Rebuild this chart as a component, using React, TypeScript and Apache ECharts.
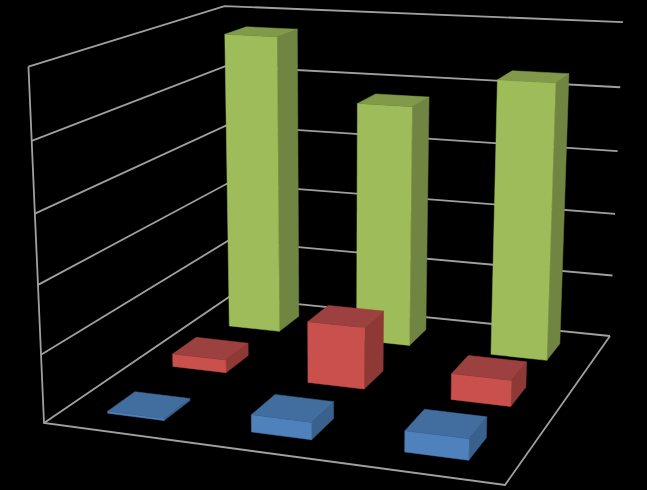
import React, { useEffect, useRef } from "react";
import * as echarts from "echarts";

const categories = ["Category 1", "Category 2", "Category 3"];
const depthSeries = ["Series 1", "Series 2", "Series 3"];
const series1 = [0.03, 0.25, 0.3];
const series2 = [0.2, 0.94, 0.39];
const series3 = [4.77, 3.8, 4.28];
const valueTicks = [0, 1, 2, 3, 4, 5];
const AXIS_MAX = 5;

const W = 647;
const H = 490;
// Picture positions of the box corners: the calibration of the 3D projection.
const A = [44, 423], B = [505, 485], C = [610, 336], D = [229, 297];
const E = [29, 67], F = [224, 4], G = [623, 24];

const BAR = 0.4; // bar share of a slot (gap 150%)

const FACES: Record<number, { front: string; side: string; top: string }> = {
  0: { front: "#4F81BD", side: "#3A608C", top: "#426D9F" },
  1: { front: "#C9504D", side: "#8E3936", top: "#9C413F" },
  2: { front: "#9FBC5A", side: "#708541", top: "#809A4A" },
};
const LINE = "#A0A0A0";

function solve3(m: number[][], r: number[]) {
  const a = m.map((row, i) => [...row, r[i]]);
  for (let i = 0; i < 3; i++) {
    let p = i;
    for (let k = i + 1; k < 3; k++) if (Math.abs(a[k][i]) > Math.abs(a[p][i])) p = k;
    [a[i], a[p]] = [a[p], a[i]];
    for (let k = 0; k < 3; k++) {
      if (k === i) continue;
      const f = a[k][i] / a[i][i];
      for (let j = i; j < 4; j++) a[k][j] -= f * a[i][j];
    }
  }
  return [a[0][3] / a[0][0], a[1][3] / a[1][1], a[2][3] / a[2][2]];
}

function makeProjection() {
  // floor homography: unit square to A, B, C, D
  const dx1 = B[0] - C[0], dx2 = D[0] - C[0], sx = A[0] - B[0] + C[0] - D[0];
  const dy1 = B[1] - C[1], dy2 = D[1] - C[1], sy = A[1] - B[1] + C[1] - D[1];
  const det = dx1 * dy2 - dx2 * dy1;
  const g = (sx * dy2 - dx2 * sy) / det;
  const h = (dx1 * sy - sx * dy1) / det;
  const a = B[0] - A[0] + g * B[0], b = D[0] - A[0] + h * D[0], c0 = A[0];
  const d = B[1] - A[1] + g * B[1], e = D[1] - A[1] + h * D[1], f0 = A[1];
  // height column from the three known top corners, least squares
  const tops: [number, number, number[]][] = [[0, 0, E], [0, 1, F], [1, 1, G]];
  const rows: number[][] = [];
  const rhs: number[] = [];
  tops.forEach(([x, y, p]) => {
    const w = g * x + h * y + 1;
    rows.push([1, 0, -p[0]]);
    rhs.push(p[0] * w - (a * x + b * y + c0));
    rows.push([0, 1, -p[1]]);
    rhs.push(p[1] * w - (d * x + e * y + f0));
  });
  const ata = [0, 1, 2].map((i) => [0, 1, 2].map((j) => rows.reduce((s, r) => s + r[i] * r[j], 0)));
  const atb = [0, 1, 2].map((i) => rows.reduce((s, r, k) => s + r[i] * rhs[k], 0));
  const [zx, zy, zw] = solve3(ata, atb);
  return (x: number, y: number, z: number) => {
    const w = g * x + h * y + zw * z + 1;
    return [(a * x + b * y + zx * z + c0) / w, (d * x + e * y + zy * z + f0) / w];
  };
}
const project = makeProjection();

const barData = [series3, series2, series1].flatMap((vals, r) =>
  vals.map((v, i) => [i, 2 - r, v])
);

export default function App() {
  const ref = useRef<HTMLDivElement>(null);
  useEffect(() => {
    document.body.style.margin = "0";
    document.body.style.background = "#000";
    const chart = echarts.init(ref.current!, undefined, { renderer: "svg" });
    const nCat = categories.length;
    const nDepth = depthSeries.length;
    const line = (api: any, pts: number[][]) => ({
      type: "polyline",
      shape: { points: pts.map((p) => api.coord(p)) },
      style: { stroke: LINE, lineWidth: 1.8, fill: "none" },
    });
    chart.setOption({
      animation: false,
      backgroundColor: "#000000",
      grid: { left: 0, right: 0, top: 0, bottom: 0 },
      xAxis: { type: "value", min: 0, max: W, show: false },
      yAxis: { type: "value", min: 0, max: H, inverse: true, show: false },
      series: [
        {
          type: "custom",
          coordinateSystem: "cartesian2d",
          silent: true,
          clip: false,
          data: valueTicks.map((t) => [t]),
          encode: { x: 0 },
          renderItem: (_p: any, api: any) => {
            const z = api.value(0) / AXIS_MAX;
            return line(api, [project(0, 0, z), project(0, 1, z), project(1, 1, z)]);
          },
        },
        {
          type: "custom",
          coordinateSystem: "cartesian2d",
          silent: true,
          clip: false,
          data: [[0]],
          encode: { x: 0 },
          renderItem: (_p: any, api: any) =>
            line(api, [project(0, 0, 1), project(0, 0, 0), project(1, 0, 0), project(1, 1, 0)]),
        },
        {
          type: "custom",
          coordinateSystem: "cartesian2d",
          silent: true,
          clip: false,
          data: barData,
          encode: { x: 0, y: 1 },
          renderItem: (_p: any, api: any) => {
            const cat = api.value(0), row = api.value(1), z = api.value(2) / AXIS_MAX;
            const x0 = (cat + 0.5 - BAR / 2) / nCat, x1 = (cat + 0.5 + BAR / 2) / nCat;
            const y0 = (row + 0.5 - BAR / 2) / nDepth, y1 = (row + 0.5 + BAR / 2) / nDepth;
            const col = FACES[row];
            const face = (pts: number[][], fill: string) => ({
              type: "polygon",
              shape: { points: pts.map((p) => api.coord(project(p[0], p[1], p[2]))) },
              style: { fill, stroke: fill, lineWidth: 0.5 },
            });
            return {
              type: "group",
              children: [
                face([[x1, y0, 0], [x1, y1, 0], [x1, y1, z], [x1, y0, z]], col.side),
                face([[x0, y0, 0], [x1, y0, 0], [x1, y0, z], [x0, y0, z]], col.front),
                face([[x0, y0, z], [x1, y0, z], [x1, y1, z], [x0, y1, z]], col.top),
              ],
            };
          },
        },
      ],
    });
    return () => chart.dispose();
  }, []);
  return <div ref={ref} style={{ width: W, height: H }} />;
}
